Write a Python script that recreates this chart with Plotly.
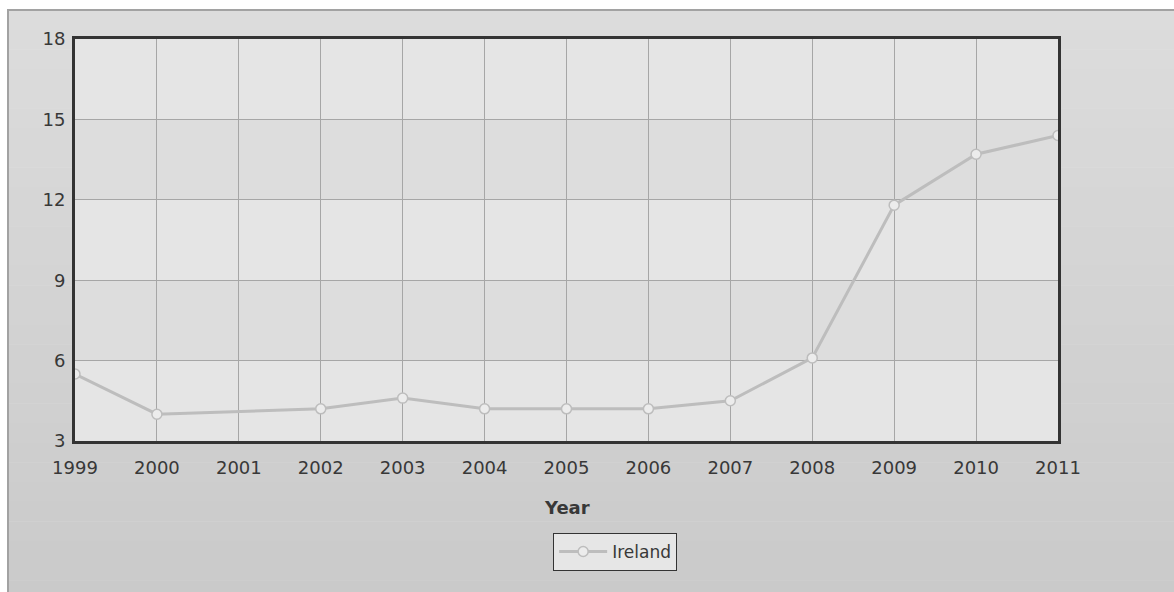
import plotly.graph_objects as go

years = [1999, 2000, 2001, 2002, 2003, 2004, 2005, 2006, 2007, 2008, 2009, 2010, 2011]
ireland = [5.5, 4.0, None, 4.2, 4.6, 4.2, 4.2, 4.2, 4.5, 6.1, 11.8, 13.7, 14.4]
y_ticks = [3, 6, 9, 12, 15, 18]
series_name = "Ireland"
x_title = "Year"

W, H = 1174, 592
L, R, T, B = 75, 1058, 39, 441
pw, ph = R - L, B - T

def px_x(p):
    return (p - L) / pw

def px_y(p):
    return (B - p) / ph

FONT = "DejaVu Sans"
TXT = "#383838"

fig = go.Figure()
fig.add_trace(go.Scatter(
    x=years, y=ireland, name=series_name, mode="lines+markers",
    connectgaps=True,
    line=dict(color="#bdbdbd", width=3),
    marker=dict(symbol="circle", size=10, color="#ececec",
                line=dict(color="#bdbdbd", width=1.5)),
))

shapes = []
# background gradient stripes (outer panel)
n = 30
top_px, bot_px = 10, 600
c0, c1 = 0xdc, 0xca
for i in range(n):
    y0p = top_px + (bot_px - top_px) * i / n
    y1p = top_px + (bot_px - top_px) * (i + 1) / n
    c = round(c0 + (c1 - c0) * i / (n - 1))
    col = "#%02x%02x%02x" % (c, c, c)
    shapes.append(dict(type="rect", xref="paper", yref="paper", layer="below",
                       x0=px_x(8), x1=px_x(1200), y0=px_y(y0p), y1=px_y(y1p + 0.5),
                       fillcolor=col, line=dict(width=0)))
shapes.append(dict(type="rect", xref="paper", yref="paper", layer="below",
                   x0=px_x(8), x1=px_x(1200), y0=px_y(10), y1=px_y(620),
                   fillcolor="rgba(0,0,0,0)", line=dict(color="#a2a2a2", width=2)))
# alternating bands in plot area
for i in range(len(y_ticks) - 1):
    col = "#e5e5e5" if i % 2 == 0 else "#dddddd"
    shapes.append(dict(type="rect", xref="x", yref="y", layer="below",
                       x0=years[0], x1=years[-1], y0=y_ticks[i], y1=y_ticks[i + 1],
                       fillcolor=col, line=dict(width=0)))

fig.update_layout(
    width=W, height=H,
    margin=dict(l=L, r=W - R, t=T, b=H - B, pad=0),
    paper_bgcolor="#ffffff",
    plot_bgcolor="#e5e5e5",
    font=dict(family=FONT, size=16, color=TXT),
    shapes=shapes,
    showlegend=True,
    legend=dict(x=0.5495, xanchor="center", y=px_y(533), yanchor="top",
                orientation="h", bgcolor="#e6e6e6", bordercolor="#333333",
                borderwidth=1, itemwidth=48,
                font=dict(family=FONT, size=17, color=TXT)),
    annotations=[dict(text="<b>" + x_title + "</b>", xref="paper", yref="paper",
                      x=0.5, y=px_y(507), xanchor="center", yanchor="middle",
                      showarrow=False, font=dict(family=FONT, size=18, color=TXT))],
)
fig.update_xaxes(
    range=[years[0], years[-1]], tickmode="array", tickvals=years,
    ticktext=[str(y) for y in years],
    showgrid=True, gridcolor="#a6a6a6", gridwidth=1,
    showline=True, linecolor="#333333", linewidth=3, mirror=True,
    zeroline=False, ticks="", ticklabelstandoff=8,
    tickfont=dict(family=FONT, size=18, color=TXT),
)
fig.update_yaxes(
    range=[y_ticks[0], y_ticks[-1]], tickmode="array", tickvals=y_ticks,
    showgrid=True, gridcolor="#a6a6a6", gridwidth=1,
    showline=True, linecolor="#333333", linewidth=3, mirror=True,
    zeroline=False, ticks="", ticklabelstandoff=3,
    tickfont=dict(family=FONT, size=18, color=TXT),
)

fig.write_html("out.html")
